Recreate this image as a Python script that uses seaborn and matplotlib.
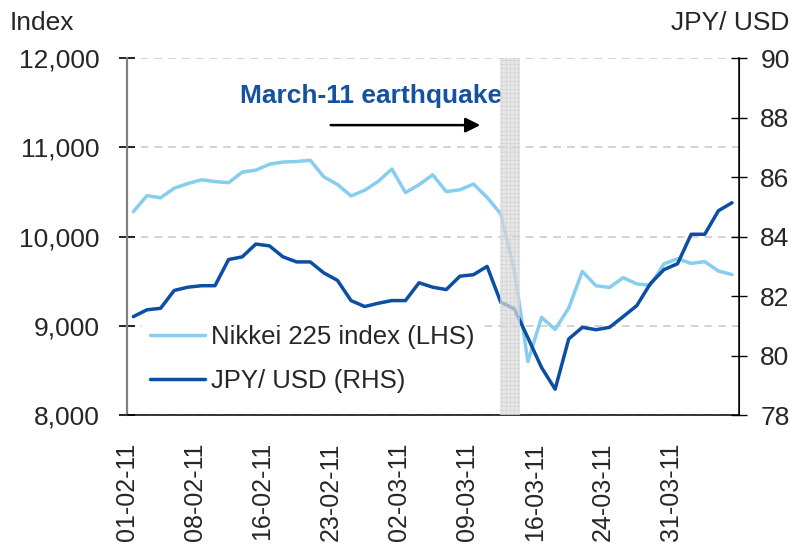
import matplotlib
matplotlib.use("Agg")
import matplotlib.pyplot as plt
import matplotlib.transforms as mtrans
import matplotlib.ticker as mtick
import pandas as pd
import seaborn as sns

# trading days, Feb 1 - Apr 6 2011
dates = [
    "01-02-11", "02-02-11", "03-02-11", "04-02-11", "07-02-11", "08-02-11",
    "09-02-11", "10-02-11", "14-02-11", "15-02-11", "16-02-11", "17-02-11",
    "18-02-11", "21-02-11", "22-02-11", "23-02-11", "24-02-11", "25-02-11",
    "28-02-11", "01-03-11", "02-03-11", "03-03-11", "04-03-11", "07-03-11",
    "08-03-11", "09-03-11", "10-03-11", "11-03-11", "14-03-11", "15-03-11",
    "16-03-11", "17-03-11", "18-03-11", "22-03-11", "23-03-11", "24-03-11",
    "25-03-11", "28-03-11", "29-03-11", "30-03-11", "31-03-11", "01-04-11",
    "04-04-11", "05-04-11", "06-04-11",
]
nikkei = [
    10280, 10460, 10435, 10543, 10595, 10637, 10617, 10605, 10723, 10745,
    10812, 10836, 10842, 10856, 10670, 10585, 10456, 10520, 10620, 10758,
    10494, 10582, 10693, 10505, 10525, 10589, 10440, 10256, 9621, 8600,
    9095, 8960, 9200, 9610, 9450, 9430, 9540, 9470, 9455, 9695,
    9752, 9700, 9720, 9615, 9575,
]
usdjpy = [
    81.31, 81.54, 81.59, 82.19, 82.30, 82.35, 82.35, 83.23, 83.32, 83.75,
    83.69, 83.32, 83.15, 83.15, 82.78, 82.53, 81.85, 81.65, 81.76, 81.85,
    81.85, 82.45, 82.30, 82.22, 82.67, 82.72, 83.00, 81.80, 81.57, 80.60,
    79.60, 78.87, 80.56, 80.95, 80.87, 80.95, 81.31, 81.68, 82.42, 82.89,
    83.09, 84.08, 84.08, 84.87, 85.14,
]
left_ticks = [8000, 9000, 10000, 11000, 12000]
right_ticks = [78, 80, 82, 84, 86, 88, 90]

LIGHT = "#87CDF0"
DARK = "#0B4EA2"
TXT = "#1452A0"

sns.set_style("white")
plt.rcParams["font.family"] = ["Liberation Sans", "DejaVu Sans"]

df = pd.DataFrame({"pos": range(len(dates)), "date": dates,
                   "nikkei": nikkei, "usdjpy": usdjpy})

fig, ax = plt.subplots(figsize=(7.91, 5.44), dpi=100)
fig.subplots_adjust(left=0.160, right=0.934, top=0.893, bottom=0.237)
ax2 = ax.twinx()

sns.lineplot(data=df, x="pos", y="nikkei", color=LIGHT, linewidth=2.5,
             ax=ax, label="Nikkei 225 index (LHS)", legend=False)
sns.lineplot(data=df, x="pos", y="usdjpy", color=DARK, linewidth=2.5,
             ax=ax2, label="JPY/ USD (RHS)", legend=False)

ax.set_xlim(-0.5, len(dates) - 0.5)
ax.set_ylim(8000, 12000)
ax2.set_ylim(78, 90)
ax.set_yticks(left_ticks)
ax2.set_yticks(right_ticks)
ax.yaxis.set_major_formatter(mtick.StrMethodFormatter("{x:,.0f}"))
ax.set_xlabel("")
ax.set_ylabel("")
ax2.set_ylabel("")

# ticks between categories, labels every 5 trading days
tick_pos = [p - 0.5 for p in range(0, len(dates) + 1, 5)]
tick_lab = [dates[p] if p < len(dates) - 4 else "" for p in range(0, len(dates) + 1, 5)]
ax.set_xticks(tick_pos)
ax.set_xticklabels(tick_lab, rotation=90, fontsize=18)
off = mtrans.ScaledTranslation(0.045, 0, fig.dpi_scale_trans)
for lbl in ax.get_xticklabels():
    lbl.set_transform(lbl.get_transform() + off)

ax.tick_params(axis="x", direction="inout", length=11, width=1, color="#404040", pad=14)
ax.tick_params(axis="y", direction="inout", length=11, width=1.2, color="black",
               labelsize=19, pad=14)
ax2.tick_params(axis="y", direction="inout", length=11, width=1, color="black",
                labelsize=19, pad=10)

ax.grid(axis="y", color="#C8C8C8", linestyle=(0, (5, 4)), linewidth=1.1)
ax.grid(axis="x", visible=False)
ax2.grid(False)

for a in (ax, ax2):
    a.spines["top"].set_visible(False)
ax.spines["left"].set_color("#808080")
ax.spines["left"].set_linewidth(1.6)
ax.spines["bottom"].set_color("black")
ax.spines["bottom"].set_linewidth(1.1)
ax2.spines["left"].set_visible(False)
ax2.spines["bottom"].set_visible(False)
ax2.spines["right"].set_color("black")
ax2.spines["right"].set_linewidth(1.1)

# earthquake band
plt.rcParams["hatch.linewidth"] = 0.4
ax2.axvspan(26.95, 28.45, facecolor="#DCDCDC", edgecolor="#C8C8C8",
            hatch="++++", linewidth=0, alpha=0.7, zorder=5)

ax.annotate("", xy=(25.7, 11250), xytext=(14.3, 11250),
            arrowprops=dict(arrowstyle="-|>", color="black", lw=1.8,
                            mutation_scale=22))
ax.text(17.5, 11500, "March-11 earthquake", color=TXT, fontsize=19,
        fontweight="bold", ha="center", va="baseline")

h1, l1 = ax.get_legend_handles_labels()
h2, l2 = ax2.get_legend_handles_labels()
leg = ax2.legend(h1 + h2, l1 + l2, loc="upper left", bbox_to_anchor=(0.025, 0.273),
                 frameon=True, fontsize=18.5, handlelength=2.15, handletextpad=0.25,
                 labelspacing=0.76, borderpad=0.3, borderaxespad=0)
leg.get_frame().set_facecolor("white")
leg.get_frame().set_edgecolor("none")
leg.get_frame().set_alpha(1)
leg.set_zorder(6)

fig.text(10 / 791, 1 - 30 / 544, "Index", fontsize=19, va="baseline")
fig.text(789 / 791, 1 - 30 / 544, "JPY/ USD", fontsize=19, va="baseline", ha="right")

plt.savefig("out.png", dpi=100)
